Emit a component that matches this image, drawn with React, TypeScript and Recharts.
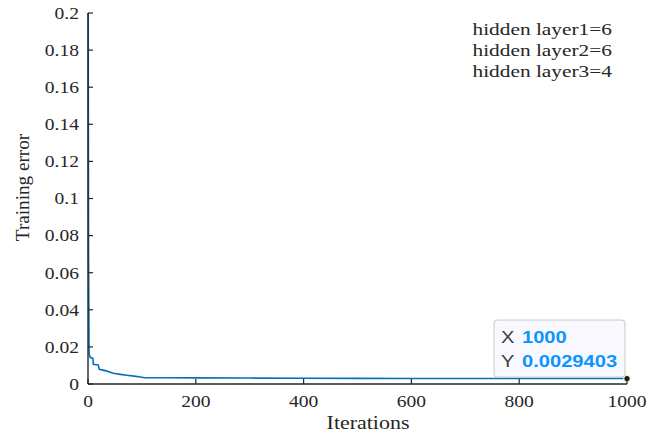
import React from 'react'
import { LineChart, Line, XAxis, YAxis, ReferenceDot } from 'recharts'

// training curve, sampled where the error changes
const iterations = [0, 1, 2, 4, 9, 10, 19, 21, 32, 47, 60, 72, 89, 97, 105, 150, 200, 300, 400, 500, 600, 700, 800, 900, 1000]
const trainingError = [
  0.28, 0.07, 0.0165, 0.0144, 0.0138, 0.0106, 0.0102, 0.0079, 0.0072, 0.0058, 0.0052, 0.0047, 0.0041, 0.0038,
  0.0034, 0.00335, 0.0033, 0.0032, 0.0031, 0.00305, 0.003, 0.00298, 0.00297, 0.00296, 0.0029403,
]
const xTicks = [0, 200, 400, 600, 800, 1000]
const yTicks = [0, 0.02, 0.04, 0.06, 0.08, 0.1, 0.12, 0.14, 0.16, 0.18, 0.2]
const hiddenLayers = ['hidden layer1=6', 'hidden layer2=6', 'hidden layer3=4']

const data = iterations.map((it, i) => ({ it, err: trainingError[i] }))
const lastPoint = data[data.length - 1]

const W = 661
const H = 435
const LEFT = 88
const TOP = 13
const RIGHT = 627
const BOTTOM = 384
const INK = '#262626'
const SERIF = "'Liberation Serif', 'Times New Roman', serif"
const SANS = "'Liberation Sans', Arial, sans-serif"
const STRETCH = 1.22
const TICK = 5

function Txt({ x, y, size, anchor = 'middle', family = SERIF, fill = INK, weight = 'normal', children }: any) {
  return (
    <text
      transform={`translate(${x},${y}) scale(${STRETCH},1)`}
      fontFamily={family}
      fontSize={size}
      fontWeight={weight}
      textAnchor={anchor}
      fill={fill}
    >
      {children}
    </text>
  )
}

const BottomTick = (p: any) => (
  <g>
    <line x1={p.x} x2={p.x} y1={BOTTOM} y2={BOTTOM - TICK} stroke={INK} strokeWidth={1.2} />
    <Txt x={p.x} y={406.5} size={16}>{String(p.payload.value)}</Txt>
  </g>
)
const TopTick = (p: any) => (
  <line x1={p.x} x2={p.x} y1={TOP} y2={TOP + TICK} stroke={INK} strokeWidth={1.2} />
)
const LeftTick = (p: any) => (
  <g>
    <line x1={LEFT} x2={LEFT + TICK} y1={p.y} y2={p.y} stroke={INK} strokeWidth={1.2} />
    <Txt x={79} y={p.y + 5.8} size={16} anchor="end">{String(p.payload.value)}</Txt>
  </g>
)
const RightTick = (p: any) => (
  <line x1={RIGHT} x2={RIGHT - TICK} y1={p.y} y2={p.y} stroke={INK} strokeWidth={1.2} />
)

const YTitle = () => (
  <text
    transform="translate(28.5,187.5) rotate(-90) scale(1.065,1)"
    fontFamily={SERIF}
    fontSize={18}
    textAnchor="middle"
    fill={INK}
  >
    Training error
  </text>
)

// MATLAB-style datatip anchored on the last point
const DataTip = (props: any) => {
  const vb = props.viewBox
  const cx = vb.x + vb.width / 2
  const cy = vb.y + vb.height / 2
  return (
    <g>
      <rect x={cx - 133} y={cy - 58.5} width={131} height={57} rx={3} fill="#f8f8fe" stroke="#c9c9cc" strokeWidth={1} />
      <Txt x={cx - 126} y={cy - 35.8} size={16.5} anchor="start" family={SANS} fill="#404040">X</Txt>
      <Txt x={cx - 105} y={cy - 35.8} size={16.5} anchor="start" family={SANS} fill="#0d94ff" weight="bold">
        {String(lastPoint.it)}
      </Txt>
      <Txt x={cx - 126} y={cy - 11.8} size={16.5} anchor="start" family={SANS} fill="#404040">Y</Txt>
      <Txt x={cx - 105} y={cy - 11.8} size={16.5} anchor="start" family={SANS} fill="#0d94ff" weight="bold">
        {String(lastPoint.err)}
      </Txt>
    </g>
  )
}

export default function App() {
  return (
    <div style={{ position: 'fixed', left: 0, top: 0, width: W, height: H, background: '#fff' }}>
      <LineChart width={W} height={H} data={data} margin={{ top: TOP, right: W - RIGHT, bottom: 0, left: 0 }}>
        <XAxis
          xAxisId="x"
          dataKey="it"
          type="number"
          domain={[0, 1000]}
          ticks={xTicks}
          height={H - BOTTOM}
          tickLine={false}
          axisLine={{ stroke: INK, strokeWidth: 1.4 }}
          tick={BottomTick}
          label={{ content: () => <Txt x={368} y={428.5} size={18}>Iterations</Txt> }}
        />
        <XAxis
          xAxisId="xt"
          orientation="top"
          type="number"
          domain={[0, 1000]}
          ticks={xTicks}
          height={0}
          tickLine={false}
          axisLine={{ stroke: INK, strokeWidth: 1.4 }}
          tick={TopTick}
        />
        <YAxis
          yAxisId="y"
          type="number"
          domain={[0, 0.2]}
          ticks={yTicks}
          allowDataOverflow
          width={LEFT}
          tickLine={false}
          axisLine={{ stroke: INK, strokeWidth: 1.4 }}
          tick={LeftTick}
          label={{ content: YTitle }}
        />
        <YAxis
          yAxisId="yr"
          orientation="right"
          type="number"
          domain={[0, 0.2]}
          ticks={yTicks}
          width={0}
          tickLine={false}
          axisLine={{ stroke: INK, strokeWidth: 1.4 }}
          tick={RightTick}
        />
        <Line
          xAxisId="x"
          yAxisId="y"
          type="linear"
          dataKey="err"
          stroke="#0072BD"
          strokeWidth={1.6}
          dot={false}
          isAnimationActive={false}
        />
        <ReferenceDot
          xAxisId="x"
          yAxisId="y"
          x={lastPoint.it}
          y={lastPoint.err}
          r={3.2}
          fill="#1a1a1a"
          stroke="#f3f0c8"
          strokeWidth={1.2}
          label={{ content: DataTip }}
        />
      </LineChart>
      <svg width={W} height={H} style={{ position: 'absolute', left: 0, top: 0, pointerEvents: 'none' }}>
        {hiddenLayers.map((t, i) => (
          <Txt key={t} x={612} y={34.5 + i * 21.3} size={17.5} anchor="end">{t}</Txt>
        ))}
      </svg>
    </div>
  )
}
